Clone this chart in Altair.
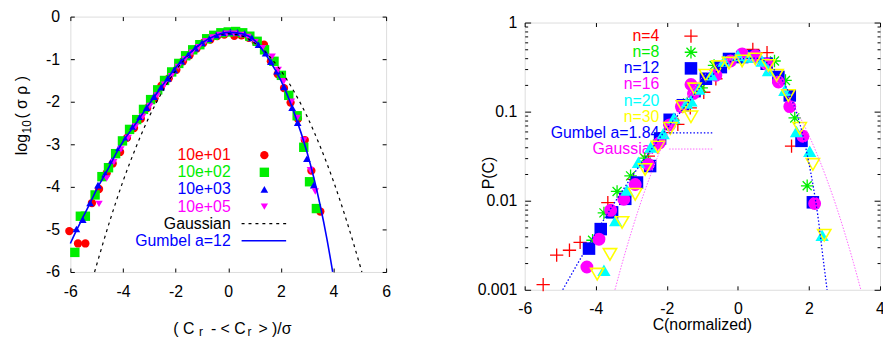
import altair as alt
import pandas as pd

FONT = "Liberation Sans"

# ---------------- left panel data ----------------
l01_x = [-6.04, -5.71, -5.43, -5.18, -4.91, -4.62, -4.39, -4.11, -3.85, -3.58, -3.32, -3.08, -2.80, -2.54, -2.26, -1.97, -1.72, -1.47, -1.20, -0.95, -0.68, -0.42, -0.15, 0.23, 0.50, 0.78, 1.05, 1.36, 1.62, 1.88, 2.12, 2.37, 2.65, 2.91, 3.16, 3.50]
l01_y = [-5.04, -5.33, -5.33, -4.38, -4.05, -3.68, -3.45, -3.18, -2.85, -2.62, -2.40, -2.15, -1.92, -1.62, -1.45, -1.25, -1.05, -0.91, -0.75, -0.62, -0.54, -0.46, -0.42, -0.45, -0.44, -0.50, -0.60, -0.66, -1.05, -1.35, -1.68, -2.02, -2.40, -2.90, -3.62, -4.58]

l02_x = [-5.83, -5.62, -5.43, -5.06, -4.80, -4.55, -4.28, -4.02, -3.75, -3.48, -3.22, -2.95, -2.68, -2.42, -2.15, -1.88, -1.62, -1.35, -1.08, -0.82, -0.55, -0.28, 0.00, 0.28, 0.55, 0.82, 1.10, 1.38, 1.74, 2.02, 2.30, 2.62, 2.87, 3.09, 3.35]
l02_y = [-5.54, -4.69, -4.69, -4.19, -3.76, -3.55, -3.22, -2.92, -2.65, -2.42, -2.18, -1.95, -1.72, -1.50, -1.30, -1.10, -0.92, -0.78, -0.66, -0.52, -0.44, -0.38, -0.36, -0.35, -0.38, -0.46, -0.58, -0.78, -1.05, -1.38, -1.85, -2.33, -3.07, -3.88, -4.51]

l03_x = [-5.77, -5.53, -5.25, -4.95, -4.68, -4.42, -4.15, -3.88, -3.62, -3.35, -3.10, -2.82, -2.55, -2.30, -2.05, -1.78, -1.52, -1.25, -1.00, -0.72, -0.45, -0.18, 0.08, 0.35, 0.62, 0.90, 1.15, 1.42, 1.62, 1.86, 2.12, 2.43, 2.64, 2.99, 3.25]
l03_y = [-4.99, -4.77, -4.38, -3.96, -3.70, -3.38, -3.08, -2.83, -2.58, -2.35, -2.14, -1.88, -1.66, -1.45, -1.25, -1.05, -0.90, -0.74, -0.62, -0.52, -0.43, -0.38, -0.36, -0.37, -0.40, -0.50, -0.66, -0.86, -1.06, -1.28, -1.65, -2.14, -2.49, -3.34, -3.96]

l05_x = [-4.91, -4.62, -4.35, -4.08, -3.80, -3.52, -3.25, -2.98, -2.70, -2.42, -2.16, -1.90, -1.64, -1.38, -1.12, -0.86, -0.60, -0.32, -0.05, 0.22, 0.48, 0.75, 1.02, 1.30, 1.67, 1.90, 2.11, 2.40, 2.62, 2.87, 3.12, 3.31]
l05_y = [-4.40, -3.80, -3.42, -3.12, -2.85, -2.58, -2.35, -2.10, -1.85, -1.60, -1.40, -1.18, -1.00, -0.85, -0.72, -0.58, -0.49, -0.43, -0.40, -0.40, -0.43, -0.48, -0.60, -0.74, -0.94, -1.25, -1.52, -2.00, -2.38, -2.91, -3.61, -4.11]

lgauss_x = [-5.08, -5.0, -4.5, -4.0, -3.5, -3.0, -2.5, -2.0, -1.5, -1.0, -0.5, 0.0, 0.5, 1.0, 1.5, 2.0, 2.5, 3.0, 3.5, 4.0, 4.5, 5.0, 5.08]
lgauss_y = [-6.0, -5.83, -4.80, -3.87, -3.06, -2.35, -1.76, -1.27, -0.89, -0.62, -0.45, -0.40, -0.45, -0.62, -0.89, -1.27, -1.76, -2.35, -3.06, -3.87, -4.80, -5.83, -6.0]

lgum_x = [-6.0, -5.75, -5.5, -5.25, -5.0, -4.75, -4.5, -4.25, -4.0, -3.5, -3.0, -2.5, -2.0, -1.5, -1.0, -0.5, 0.0, 0.5, 1.0, 1.5, 2.0, 2.5, 3.0, 3.25, 3.5, 3.75, 3.97]
lgum_y = [-5.33, -5.00, -4.69, -4.38, -4.06, -3.78, -3.50, -3.20, -2.94, -2.50, -2.05, -1.62, -1.20, -0.88, -0.62, -0.45, -0.37, -0.40, -0.56, -0.96, -1.50, -2.25, -3.20, -3.78, -4.45, -5.22, -6.0]

left_xticks = [-6, -4, -2, 0, 2, 4, 6]
left_yticks = [-6, -5, -4, -3, -2, -1, 0]
left_labels = ["10e+01", "10e+02", "10e+03", "10e+05", "Gaussian", "Gumbel a=12"]
# axis titles split into pieces: (text, font size, is subscript)
left_xtitle = [("( C", 16, False), ("r", 12, True), ("- < C", 16, False), ("r", 12, True), ("> )/σ", 16, False)]
left_ytitle = [("log", 16, False), ("10", 12, True), ("( σ ρ )", 16, False)]

# ---------------- right panel data ----------------
n4_x = [-5.48, -5.10, -4.74, -4.44, -3.66, -2.94, -2.52, -2.06, -1.69, -1.34, -0.96, -0.62, 0.42, 0.82, 1.51]
n4_y = [0.00114, 0.00245, 0.00278, 0.0034, 0.0095, 0.0174, 0.0316, 0.058, 0.072, 0.110, 0.165, 0.234, 0.50, 0.46, 0.041]

n8_x = [-4.09, -3.77, -3.40, -3.02, -2.62, -2.22, -1.82, -1.42, -1.02, -0.67, -0.30, 0.10, 0.50, 1.03, 1.34, 1.60, 1.95]
n8_y = [0.0036, 0.0073, 0.0127, 0.019, 0.030, 0.048, 0.080, 0.125, 0.185, 0.330, 0.37, 0.40, 0.41, 0.37, 0.224, 0.085, 0.0147]

n12_x = [-4.19, -3.86, -3.54, -3.17, -2.84, -2.47, -2.19, -1.92, -1.55, -1.22, -0.90, -0.48, -0.25, 0.12, 0.45, 0.81, 1.14, 1.46, 1.79, 2.11]
n12_y = [0.0029, 0.0048, 0.0074, 0.0105, 0.016, 0.0245, 0.050, 0.081, 0.118, 0.170, 0.234, 0.316, 0.39, 0.41, 0.42, 0.345, 0.245, 0.152, 0.047, 0.0096]

n16_x = [-4.25, -3.91, -3.58, -3.21, -2.89, -2.52, -2.21, -1.92, -1.59, -1.25, -0.62, -0.21, 0.12, 0.49, 0.82, 1.14, 1.46, 1.83, 2.16]
n16_y = [0.0018, 0.0037, 0.0078, 0.0104, 0.0152, 0.0256, 0.0445, 0.071, 0.114, 0.160, 0.256, 0.37, 0.445, 0.425, 0.34, 0.215, 0.114, 0.053, 0.0093]

n20_x = [-3.77, -3.44, -3.12, -2.80, -2.45, -2.10, -1.80, -1.45, -1.10, -0.75, -0.39, 0.00, 0.31, 0.68, 0.86, 1.32, 1.65, 2.02, 2.37]
n20_y = [0.00166, 0.0060, 0.0132, 0.027, 0.040, 0.057, 0.085, 0.125, 0.180, 0.26, 0.37, 0.427, 0.41, 0.37, 0.29, 0.174, 0.060, 0.036, 0.0041]

n30_x = [-3.96, -3.60, -3.26, -2.89, -2.61, -2.25, -1.90, -1.55, -1.22, -0.90, -0.55, -0.25, 0.12, 0.49, 0.86, 1.09, 1.42, 1.74, 2.11, 2.43]
n30_y = [0.0015, 0.0025, 0.0057, 0.0118, 0.0224, 0.040, 0.065, 0.114, 0.180, 0.256, 0.32, 0.35, 0.37, 0.39, 0.33, 0.256, 0.152, 0.065, 0.0256, 0.0041]

rgum_x = [-4.93, -4.5, -4.0, -3.5, -3.0, -2.5, -2.0, -1.5, -1.0, -0.5, 0.0, 0.5, 1.0, 1.5, 1.8, 2.0, 2.25, 2.42, 2.51]
rgum_y = [0.001, 0.0020, 0.00437, 0.00912, 0.0182, 0.0347, 0.0646, 0.112, 0.200, 0.302, 0.389, 0.398, 0.302, 0.141, 0.0603, 0.0263, 0.00676, 0.00191, 0.001]

rgauss_x = [-3.46, -3.25, -3.0, -2.75, -2.5, -2.25, -2.0, -1.75, -1.5, -1.25, -1.0, -0.75, -0.5, -0.25, 0.0, 0.25, 0.5, 0.75, 1.0, 1.25, 1.5, 1.75, 2.0, 2.25, 2.5, 2.75, 3.0, 3.25, 3.46]
rgauss_y = [0.001, 0.00203, 0.00443, 0.0091, 0.0175, 0.0317, 0.054, 0.0863, 0.1295, 0.1826, 0.242, 0.301, 0.352, 0.3867, 0.399, 0.3867, 0.352, 0.301, 0.242, 0.1826, 0.1295, 0.0863, 0.054, 0.0317, 0.0175, 0.0091, 0.00443, 0.00203, 0.001]

right_xticks = [-6, -4, -2, 0, 2, 4]
right_major = [0.001, 0.01, 0.1, 1]
right_minor = [0.002, 0.003, 0.004, 0.005, 0.006, 0.007, 0.008, 0.009,
               0.02, 0.03, 0.04, 0.05, 0.06, 0.07, 0.08, 0.09,
               0.2, 0.3, 0.4, 0.5, 0.6, 0.7, 0.8, 0.9]
right_labels = ["n=4", "n=8", "n=12", "n=16", "n=20", "n=30", "Gumbel a=1.84", "Gaussian"]

RED, GREEN, BLUE, MAG, CYAN, YEL = "#ff0000", "#00ee00", "#0000ff", "#ff00ff", "#00ffff", "#ffff00"
PLUS = "M-1,0L1,0M0,-1L0,1"
STAR = "M-1,0L1,0M0,-1L0,1M-0.72,-0.72L0.72,0.72M-0.72,0.72L0.72,-0.72"


def axis(orient, values, dash, labels=False, **kw):
    base = dict(orient=orient, values=values, grid=True, gridDash=dash, gridColor="black",
                gridOpacity=1, gridWidth=1, ticks=False, domain=False, labels=labels,
                labelFlush=False, labelOverlap=False, labelFont=FONT, labelFontSize=16,
                labelColor="black", titleFont=FONT, titleFontSize=16, titleColor="black",
                titleFontWeight="normal")
    if "title" not in kw:
        kw["title"] = None
    base.update(kw)
    return alt.Axis(**base)


one = pd.DataFrame({"k": [0]})


def text_at(txt, x, y, size=16, color="black", align="left", angle=0):
    return alt.Chart(one).mark_text(text=txt, align=align, baseline="middle", font=FONT, fontSize=size,
                                    color=color, angle=angle).encode(x=alt.value(x), y=alt.value(y))


# ---------------- left panel ----------------
lxs = alt.Scale(domain=[-6, 6], nice=False)
lys = alt.Scale(domain=[-6, 0], nice=False)
num_expr = "'' + datum.value"

lx_bottom = axis("bottom", left_xticks, [4, 2000], labels=True, labelExpr=num_expr, labelPadding=12)
lx_top = axis("top", left_xticks, [4, 2000])
ly_left = axis("left", left_yticks, [4, 2000], labels=True, labelExpr=num_expr, labelPadding=11)
ly_right = axis("right", left_yticks, [4, 2000])


def lpts(xs, ys, shape, color, size, xa=None, ya=None):
    df = pd.DataFrame({"x": xs, "y": ys})
    return alt.Chart(df).mark_point(shape=shape, filled=True, color=color, size=size, opacity=1).encode(
        x=alt.X("x:Q", scale=lxs, axis=xa), y=alt.Y("y:Q", scale=lys, axis=ya))


def lline(xs, ys, color, dash=None, width=1.3):
    df = pd.DataFrame({"x": xs, "y": ys})
    kw = dict(color=color, strokeWidth=width, interpolate="monotone")
    if dash:
        kw["strokeDash"] = dash
    return alt.Chart(df).mark_line(**kw).encode(
        x=alt.X("x:Q", scale=lxs, axis=None), y=alt.Y("y:Q", scale=lys, axis=None))


L_TX, L_SX, L_Y0, L_DY = 162, 196, 140.0, 17.3
left_colors = [RED, GREEN, BLUE, MAG, "black", BLUE]
left_layers = []
for i, (lab, col) in enumerate(zip(left_labels, left_colors)):
    left_layers.append(text_at(lab, L_TX, L_Y0 + i * L_DY, color=col, align="right"))
left_syms = [("circle", RED, 70), ("square", GREEN, 90), ("triangle-up", BLUE, 60), ("triangle-down", MAG, 55)]
for i, (shp, col, sz) in enumerate(left_syms):
    left_layers.append(alt.Chart(one).mark_point(shape=shp, filled=True, color=col, size=sz, opacity=1).encode(
        x=alt.value(L_SX), y=alt.value(L_Y0 + i * L_DY)))

# x-axis title pieces (left aligned, placed along the bottom)
xt_pos = [104, 130, 142, 179, 190]
for (txt, sz, sub), px in zip(left_xtitle, xt_pos):
    left_layers.append(text_at(txt, px, 315.5 + (3 if sub else 0), size=sz))
# y-axis title pieces (rotated, reading upwards)
yt_pos = [140, 118, 103]
for (txt, sz, sub), py in zip(left_ytitle, yt_pos):
    left_layers.append(text_at(txt, -49 + (5 if sub else 0), py, size=sz, angle=270))

left_layers += [
    lpts(l01_x, l01_y, "circle", RED, 70, lx_bottom, ly_left),
    lpts(l02_x, l02_y, "square", GREEN, 90, lx_top, ly_right),
    lpts(l03_x, l03_y, "triangle-up", BLUE, 60),
    lpts(l05_x, l05_y, "triangle-down", MAG, 55),
    lline(lgauss_x, lgauss_y, "black", dash=[3, 4], width=1.2),
    lline(lgum_x, lgum_y, BLUE, width=1.6),
    alt.Chart(one).mark_rule(color="black", strokeDash=[3, 4], strokeWidth=1.2).encode(
        x=alt.value(173), x2=alt.value(218), y=alt.value(L_Y0 + 4 * L_DY)),
    alt.Chart(one).mark_rule(color=BLUE, strokeWidth=1.6).encode(
        x=alt.value(173), x2=alt.value(218), y=alt.value(L_Y0 + 5 * L_DY)),
]

left = alt.layer(*left_layers).resolve_axis(x="independent", y="independent").properties(width=319, height=258)

# ---------------- right panel ----------------
rxs = alt.Scale(domain=[-6, 4], nice=False)
rys = alt.Scale(type="log", domain=[0.001, 1], nice=False)
log_expr = "indexof([1, 0.1, 0.01, 0.001], datum.value) >= 0 ? '' + datum.value : ''"

rx_bottom = axis("bottom", right_xticks, [4, 2000], labels=True, labelExpr=num_expr, labelPadding=11)
rx_top = axis("top", right_xticks, [4, 2000])
ry_lmaj = axis("left", right_major, [6, 2000], labels=True, labelExpr=log_expr, labelPadding=8)
ry_lmin = axis("left", right_minor, [3, 2000])
ry_rmaj = axis("right", right_major, [6, 2000])
ry_rmin = axis("right", right_minor, [3, 2000])


def rpts(xs, ys, shape, color, size, filled=True, sw=1.3, xa=None, ya=None):
    df = pd.DataFrame({"x": xs, "y": ys})
    return alt.Chart(df).mark_point(shape=shape, filled=filled, color=color, size=size, opacity=1,
                                    strokeWidth=sw).encode(
        x=alt.X("x:Q", scale=rxs, axis=xa), y=alt.Y("y:Q", scale=rys, axis=ya))


def rline(xs, ys, color, dash, width=1.2):
    df = pd.DataFrame({"x": xs, "y": ys})
    return alt.Chart(df).mark_line(color=color, strokeWidth=width, strokeDash=dash,
                                   interpolate="monotone").encode(
        x=alt.X("x:Q", scale=rxs, axis=None), y=alt.Y("y:Q", scale=rys, axis=None))


R_TX, R_SX, R_Y0, R_DY = 136, 168, 13.7, 16.3
right_colors = [RED, GREEN, BLUE, MAG, CYAN, YEL, BLUE, MAG]
right_syms = [(PLUS, RED, 180, False, 1.3), (STAR, GREEN, 160, False, 1.3), ("square", BLUE, 160, True, 1),
              ("circle", MAG, 170, True, 1), ("triangle-up", CYAN, 180, True, 1),
              ("triangle-down", YEL, 180, False, 1.6)]
right_layers = [text_at("P(C)", -36, 152, angle=270, align="center"),
                text_at("C(normalized)", 179.5, 306, align="center")]
for i, (lab, col) in enumerate(zip(right_labels, right_colors)):
    right_layers.append(text_at(lab, R_TX, R_Y0 + i * R_DY, color=col, align="right"))

series = [(n4_x, n4_y), (n8_x, n8_y), (n12_x, n12_y), (n16_x, n16_y), (n20_x, n20_y), (n30_x, n30_y)]
axes_for = [(rx_bottom, ry_lmaj), (rx_top, ry_lmin), (None, ry_rmaj), (None, ry_rmin), (None, None), (None, None)]
for i, ((sx, sy), (shp, col, sz, fl, sw), (xa, ya)) in enumerate(zip(series, right_syms, axes_for)):
    right_layers.append(alt.Chart(one).mark_point(shape=shp, filled=fl, color=col, size=sz, opacity=1,
                                                  strokeWidth=sw).encode(
        x=alt.value(R_SX), y=alt.value(R_Y0 + i * R_DY)))
    right_layers.append(rpts(sx, sy, shp, col, sz, filled=fl, sw=sw, xa=xa, ya=ya))

right_layers += [
    rline(rgum_x, rgum_y, BLUE, [1.5, 2], 1.3),
    rline(rgauss_x, rgauss_y, "#ff66ff", [1.5, 1.5], 1.0),
    alt.Chart(one).mark_rule(color=BLUE, strokeDash=[1.5, 2], strokeWidth=1.3).encode(
        x=alt.value(146), x2=alt.value(190), y=alt.value(R_Y0 + 6 * R_DY)),
    alt.Chart(one).mark_rule(color="#ff66ff", strokeDash=[1.5, 1.5], strokeWidth=1.0).encode(
        x=alt.value(146), x2=alt.value(190), y=alt.value(R_Y0 + 7 * R_DY)),
]

right = alt.layer(*right_layers).resolve_axis(x="independent", y="independent").properties(
    width=359, height=270)

spacer = alt.Chart(one).mark_point(opacity=0).encode(x=alt.value(0), y=alt.value(0)).properties(
    width=1, height=1, view=alt.ViewBackground(stroke=None))

chart = alt.hconcat(left, alt.vconcat(spacer, right, spacing=-6), spacing=86).properties(
    padding={"left": 5, "top": -2, "right": -2, "bottom": -2}
).configure_view(stroke="black", strokeWidth=1).configure(background="white")

chart.save("out.html", embed_options={"renderer": "svg", "actions": False})
